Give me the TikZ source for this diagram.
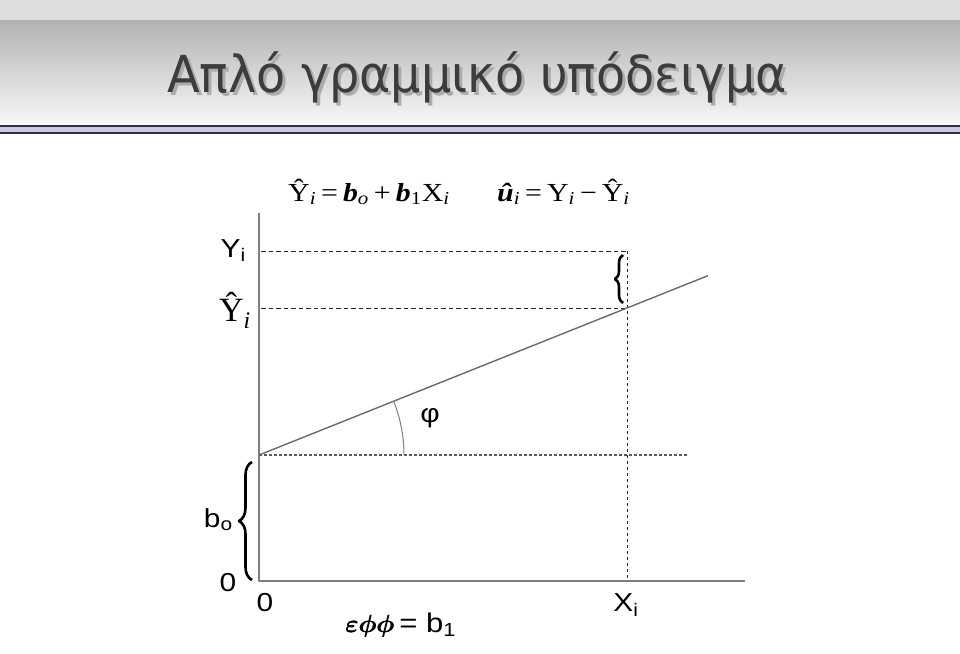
\documentclass[tikz,border=0pt]{standalone}
\usepackage{fontspec}
\usepackage{graphicx}
\usepackage{bm}
\usetikzlibrary{decorations.pathreplacing,calc,positioning}
\setmainfont{Liberation Serif}
\newfontfamily\sansA{Liberation Sans}
\newfontfamily\titlefont{DejaVu Sans}
\newcommand{\widen}[1]{\scalebox{1.15}[1]{#1}}
\newcommand{\heavy}[1]{\rlap{#1}\kern0.8pt#1}
\definecolor{bandgray}{HTML}{DDDDDD}
\definecolor{shadetop}{HTML}{B2B2B2}
\definecolor{shadebot}{HTML}{F7F7F7}
\definecolor{rulenavy}{HTML}{2E2E4A}
\definecolor{rulelav}{HTML}{C8C8E0}
\definecolor{titleink}{HTML}{3C3C3C}
\definecolor{axisgray}{HTML}{7F7F7F}
\definecolor{linegray}{HTML}{6A6A6A}
\tikzset{
  axisline/.style={axisgray, line width=1.8pt},
  levelline/.style={black!85, line width=1pt, dash pattern=on 4.5pt off 3pt},
  dropline/.style={black!85, line width=1pt, dash pattern=on 3pt off 3pt},
  baseline/.style={black!65, line width=1.2pt, dash pattern=on 3pt off 2pt},
  bracestyle/.style={decorate, line width=2.6pt, decoration={brace, amplitude=#1}},
  lab/.style={font=\sansA\fontsize{26}{26}\selectfont, inner sep=0pt},
  eqn/.style={font=\fontsize{26}{26}\selectfont, inner sep=0pt},
  heading/.style={anchor=base, inner sep=0pt, font=\titlefont\fontsize{51}{51}\selectfont}
}
\begin{document}
\begin{tikzpicture}[x=1pt, y=-1pt, line join=round, line cap=butt, >=stealth]
\useasboundingbox (0,0) rectangle (960,653);
% title bar
\fill[bandgray] (0,0) rectangle (960,20);
\shade[top color=shadetop, bottom color=shadebot] (0,20) rectangle (960,123);
\fill[rulenavy] (0,124.5) rectangle (960,127);
\fill[rulelav] (0,127) rectangle (960,131.5);
\fill[rulenavy] (0,131.5) rectangle (960,133.5);
\node[heading, gray!65] (titleshadow) at (480,95) {\scalebox{0.935}[1]{Απλό γραμμικό υπόδειγμα}};
\node[heading, titleink] (title) at (477,92) {\scalebox{0.935}[1]{Απλό γραμμικό υπόδειγμα}};
% points
\coordinate (O) at (259,581);
\coordinate (B) at (259,455);
\coordinate (P) at (627,308);
\coordinate (Q) at (627,251);
\coordinate (Xi) at (627,581);
\coordinate (yl) at (261,251);
\coordinate (yh) at (261,308);
% axes
\draw[axisline] (259,213) -- (O) -- (745,581);
% dashed levels
\draw[levelline] (yl) -- (Q);
\draw[levelline] (yh) -- (P);
\draw[dropline] (Q) -- (Xi);
\draw[baseline] (B) -- (687,455);
% regression line and angle
\draw[linegray, line width=1.4pt] (B) -- ($(B)!1.22!(P)$);
\draw[axisgray, line width=1pt] ([shift={(0:145)}]B) arc[start angle=0, end angle=-21.8, radius=145];
\node[lab] (phi) at (430,418) {\widen{φ}};
% braces
\draw[bracestyle=13pt] (252,580) -- (252,462);
\draw[bracestyle=8pt] (623,303) -- (623,255);
% axis labels
\node[lab, anchor=base east] (Ylab) at (246,257) {\widen{Y\textsubscript{i}}};
\node[eqn, anchor=base east, font=\fontsize{34}{34}\selectfont] (Yhatlab) at (251,321) {Ŷ\textsubscript{\textit{i}}};
\node[lab, anchor=base east] (b0lab) at (233,527) {\widen{b\textsubscript{o}}};
\node[lab] (zeroY) at (228,583) {\widen{0}};
\node[lab] (zeroX) at (265,603) {\widen{0}};
\node[lab] (Xlab) at (626,605) {\widen{X\textsubscript{i}}};
% equations
\node[eqn, anchor=base west] (eqfit) at (288,201) {\widen{Ŷ\textsubscript{\textit{i}}\,=\,\textbf{\textit{b}}\textsubscript{\textit{o}}\,+\,\textbf{\textit{b}}\textsubscript{1}X\textsubscript{\textit{i}}}};
\node[eqn, anchor=base west] (eqres) at (497,201) {\widen{\textbf{\textit{û}}\textsubscript{\textit{i}}\,=\,Y\textsubscript{\textit{i}}\,−\,Ŷ\textsubscript{\textit{i}}}};
\node[anchor=base west, inner sep=0pt, font=\fontsize{28}{28}\selectfont] (slope) at (345,632) {\heavy{$\bm{\varepsilon\phi\phi}$}\,{\sansA\fontsize{27}{27}\selectfont\widen{= b\textsubscript{1}}}};
\end{tikzpicture}
\end{document}
